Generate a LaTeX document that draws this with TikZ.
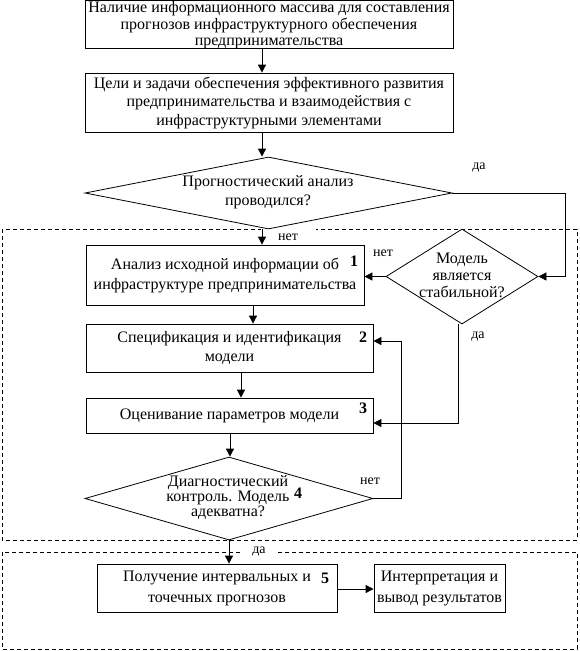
\documentclass[tikz,border=0pt]{standalone}
\usepackage{fontspec}
\setmainfont{Liberation Serif}
\usetikzlibrary{shapes.geometric,arrows.meta,calc}
\tikzset{
  box/.style={draw,line width=0.8pt,fill=white,inner sep=0pt,align=center,anchor=center},
  dia/.style={draw,diamond,line width=0.8pt,fill=white,inner sep=0pt},
  txt/.style={inner sep=0pt,align=center},
  lbl/.style={inner sep=0pt,font=\fontsize{14}{16}\selectfont},
  num/.style={inner sep=0pt,font=\fontsize{16}{18}\selectfont\bfseries},
  arr/.style={line width=0.8pt,-{Triangle[length=8pt,width=8pt]}},
  ln/.style={line width=0.8pt},
  zone/.style={draw,dashed,dash pattern=on 4pt off 3pt,line width=0.7pt}
}
\begin{document}
\begin{tikzpicture}[x=1pt,y=-1pt,font=\fontsize{16}{18}\selectfont]
\useasboundingbox (0,0) rectangle (579,651);
% dashed zones
\draw[zone] (2,229) rectangle (577,540);
\draw[zone] (2,552) rectangle (577,649);
% labels with white background
\node[lbl,fill=white,minimum width=55pt,minimum height=20pt] (net1) at (288,237) {нет};
\node[lbl,fill=white,minimum width=36pt,minimum height=14pt] (da3) at (259,552) {да};
\node[lbl] (da1) at (479,168) {да};
\node[lbl] (net2) at (383,253) {нет};
\node[lbl] (da2) at (478,337) {да};
\node[lbl] (net3) at (370,481) {нет};
% boxes
\node[box,minimum width=368pt,minimum height=48pt] (b1) at (269,24.5) {};
\node[txt,font=\fontsize{16}{16.5}\selectfont] (t0) at (269,25.5)
  {Наличие информационного массива для составления\\прогнозов инфраструктурного обеспечения\\предпринимательства};
\node[box,minimum width=368pt,minimum height=59pt,font=\fontsize{16}{18.5}\selectfont] (b2) at (269,102.5)
  {Цели и задачи обеспечения эффективного развития\\предпринимательства и взаимодействия с\\инфраструктурными элементами};
\node[dia,minimum width=367pt,minimum height=72pt] (d1) at (268.5,193) {};
\node[txt,font=\fontsize{16}{19}\selectfont] (t1) at (268,192.5) {Прогностический анализ\\проводился?};
\node[dia,minimum width=152pt,minimum height=95pt] (d2) at (462,276.5) {};
\node[txt,font=\fontsize{16}{17}\selectfont] (t2) at (462,275) {Модель\\является\\стабильной?};
\node[box,minimum width=278pt,minimum height=60pt,font=\fontsize{16}{20}\selectfont] (bA) at (225,275)
  {Анализ исходной информации об\\инфраструктуре предпринимательства};
\node[num] (n1) at (354,261) {1};
\node[box,minimum width=287pt,minimum height=48pt,font=\fontsize{16}{19}\selectfont] (bB) at (229.5,348)
  {Спецификация и идентификация\\модели};
\draw[white,line width=1.6pt] ([xshift=-25pt]bB.north east) -- ([xshift=-0.6pt]bB.north east);
\node[num] (n2) at (363,337) {2};
\node[box,minimum width=287pt,minimum height=35pt] (bC) at (229.5,415.5)
  {Оценивание параметров модели};
\node[num] (n3) at (363,408) {3};
\node[dia,minimum width=288pt,minimum height=83pt] (d3) at (229,498.5) {};
\node[txt,font=\fontsize{16}{15}\selectfont] (t3) at (228,498) {Диагностический\\контроль. Модель\\адекватна?};
\node[num] (n4) at (298,493) {4};
\node[box,minimum width=240pt,minimum height=48pt,font=\fontsize{16}{21}\selectfont] (bD) at (217,588)
  {Получение интервальных и\\точечных прогнозов};
\node[num] (n5) at (325,578) {5};
\node[box,minimum width=131pt,minimum height=48pt,font=\fontsize{16}{21}\selectfont] (bE) at (439.5,588)
  {Интерпретация и\\вывод результатов};
% connectors
\draw[arr] (b1.south -| 262,0) -- (b2.north -| 262,0);
\draw[arr] (b2.south -| 262,0) -- (d1.north -| 262,0);
\draw[arr] (d1.south -| 262,0) -- (bA.north -| 262,0);
\draw[arr] (d1.east) -- (565,193) |- (d2.east);
\draw[arr] (d2.west) -- (d2.west -| bA.east);
\draw[arr] (bA.south -| 253,0) -- (bB.north -| 253,0);
\draw[arr] (bB.south -| 241,0) -- (bC.north -| 241,0);
\draw[arr] ([xshift=-4pt]d2.south) |- (bC.east |- 0,423);
\draw[arr] (bC.south -| 230,0) -- (d3.north -| 230,0);
\draw[arr] (d3.east) -- (401,498.5) |- (bB.east |- 0,341);
\draw[arr] (d3.south) -- (bD.north -| d3.south);
\draw[arr] (bD.east |- 0,589) -- (bE.west |- 0,589);
\end{tikzpicture}
\end{document}
